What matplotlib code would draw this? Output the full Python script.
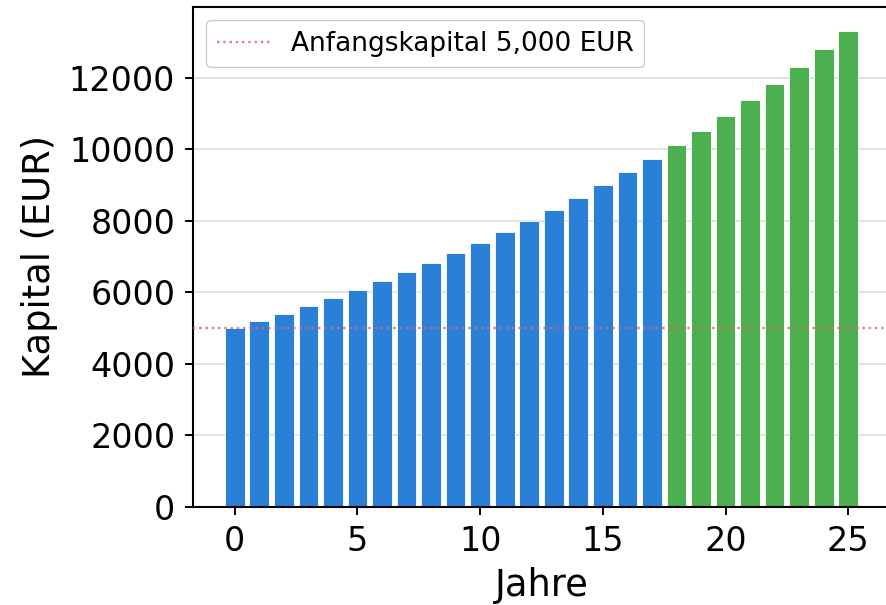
import numpy as np
import matplotlib
matplotlib.use('Agg')
import matplotlib.pyplot as plt

# Kapital pro Jahr
jahre = list(range(26))
kapital = [5000, 5190, 5400, 5610, 5830, 6065, 6310, 6560, 6830, 7100,
           7385, 7680, 7990, 8310, 8645, 8990, 9355, 9730, 10110, 10515,
           10935, 11380, 11830, 12305, 12800, 13310]
anfangskapital = 5000
grenze_jahr = 18  # ab hier gruen

blau = '#2a7fd6'
gruen = '#4caf50'
farben = [blau if j < grenze_jahr else gruen for j in jahre]

fig = plt.figure(figsize=(8.87, 6.05), dpi=100)
ax = fig.add_axes([193.3 / 887, (605 - 507) / 605, 696.4 / 887, 500 / 605])

ax.bar(jahre, kapital, width=0.8, color=farben, edgecolor='white', linewidth=0.6, zorder=2)
ax.axhline(anfangskapital, color='#e06666', linestyle=':', linewidth=1.7, alpha=0.85,
           label='Anfangskapital 5,000 EUR', zorder=3)

ax.set_xlabel('Jahre', fontsize=26.5, labelpad=6.5)
ax.set_ylabel('Kapital (EUR)', fontsize=26.5, labelpad=8)
ax.tick_params(axis='both', labelsize=24, length=5.5, width=1.4, pad=7.5)
ax.set_xticks([0, 5, 10, 15, 20, 25])
ax.set_yticks(np.arange(0, 13000, 2000))
ax.grid(axis='y', color='#dddddd', linewidth=1.2, zorder=0)
ax.set_axisbelow(True)
for s in ax.spines.values():
    s.set_linewidth(1.5)
ax.spines['right'].set_visible(False)

ax.legend(loc='upper left', fontsize=19, framealpha=1, edgecolor='#cccccc',
          borderpad=0.4, handlelength=2.0)

fig.savefig('out.png', dpi=100)
